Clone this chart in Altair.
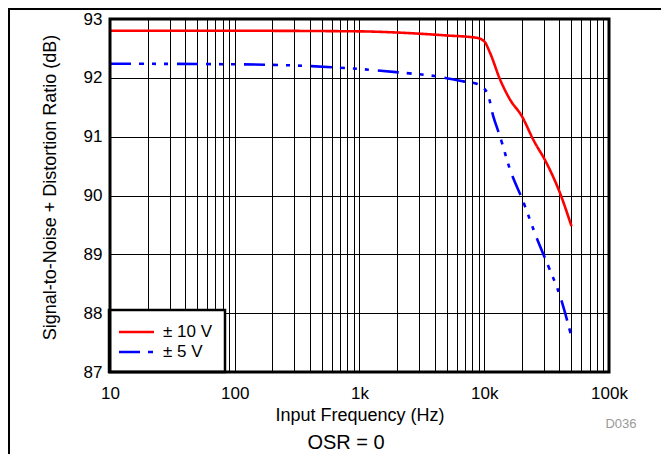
import altair as alt
import pandas as pd

# ---- data ----
series_names = ["± 10 V", "± 5 V"]
freq_10v = [10, 100, 1000, 2000, 5000, 8700, 10000, 11100, 13400, 16100, 20000, 24700, 31600, 40500, 50000]
snr_10v = [92.80, 92.80, 92.79, 92.77, 92.72, 92.68, 92.62, 92.43, 91.97, 91.63, 91.35, 90.95, 90.55, 90.04, 89.48]
freq_5v = [10, 100, 400, 1000, 2400, 4000, 6800, 8700, 10600, 11800, 13400, 16100, 20500, 26300, 32600, 40500, 50000]
snr_5v = [92.24, 92.23, 92.20, 92.15, 92.08, 92.03, 91.94, 91.90, 91.74, 91.35, 91.00, 90.44, 89.90, 89.28, 88.80, 88.29, 87.60]

x_grid = [d * k for d in [10, 100, 1000, 10000] for k in range(1, 10)] + [100000]
y_ticks = [87, 88, 89, 90, 91, 92, 93]

rows = [{"freq": f, "snr": v, "series": series_names[0]} for f, v in zip(freq_10v, snr_10v)]
rows += [{"freq": f, "snr": v, "series": series_names[1]} for f, v in zip(freq_5v, snr_5v)]
df = pd.DataFrame(rows)

FONT = "Liberation Sans"
RED = "#FF0000"
BLUE = "#0000FF"
DASH_5V = [21, 8, 5, 8, 4, 8, 4, 9]

W, H = 499, 353

label_expr = ("datum.value == 10 ? '10' : datum.value == 100 ? '100' : datum.value == 1000 ? '1k' : "
              "datum.value == 10000 ? '10k' : datum.value == 100000 ? '100k' : ''")

lines = alt.Chart(df).mark_line(strokeWidth=2.6, interpolate="monotone").encode(
    x=alt.X("freq:Q",
            scale=alt.Scale(type="log", domain=[10, 100000], nice=False),
            axis=alt.Axis(values=x_grid, labelExpr=label_expr, grid=True, gridColor="black",
                          gridWidth=1, gridOpacity=1, ticks=False, domain=False,
                          labelFont=FONT, labelFontSize=17, labelColor="black",
                          labelPadding=13, labelOverlap=False, labelFlush=False,
                          title="Input Frequency (Hz)", titleFont=FONT, titleFontSize=18,
                          titleFontWeight="normal", titleColor="black",
                          titleY=43, titleBaseline="middle")),
    y=alt.Y("snr:Q",
            scale=alt.Scale(domain=[87, 93], nice=False, zero=False),
            axis=alt.Axis(values=y_ticks, grid=True, gridColor="black", gridWidth=1, gridOpacity=1,
                          ticks=False, domain=False, labelFont=FONT, labelFontSize=17,
                          labelColor="black", labelPadding=8,
                          title="Signal-to-Noise + Distortion Ratio (dB)", titleFont=FONT,
                          titleFontSize=18, titleFontWeight="normal", titleColor="black",
                          titleX=-60, titleY=168, titleBaseline="middle")),
    color=alt.Color("series:N", scale=alt.Scale(domain=series_names, range=[RED, BLUE]), legend=None),
    strokeDash=alt.StrokeDash("series:N", scale=alt.Scale(domain=series_names, range=[[1, 0], DASH_5V]),
                              legend=None),
)

one = alt.Data(values=[{"a": 1}])

# legend box
leg_box = alt.Chart(one).mark_rect(fill="white", stroke="black", strokeWidth=2.5).encode(
    x=alt.value(-1), x2=alt.value(115), y=alt.value(291), y2=alt.value(353))
leg_red = alt.Chart(one).mark_rule(color=RED, strokeWidth=2.6).encode(
    x=alt.value(9), x2=alt.value(44), y=alt.value(313))
leg_blue = alt.Chart(one).mark_rule(color=BLUE, strokeWidth=2.6, strokeDash=DASH_5V).encode(
    x=alt.value(9), x2=alt.value(44), y=alt.value(333))
leg_t1 = alt.Chart(one).mark_text(text=series_names[0], font=FONT, fontSize=17, align="left",
                                  baseline="middle", color="black").encode(
    x=alt.value(53), y=alt.value(313))
leg_t2 = alt.Chart(one).mark_text(text=series_names[1], font=FONT, fontSize=17, align="left",
                                  baseline="middle", color="black").encode(
    x=alt.value(53), y=alt.value(333))

osr = alt.Chart(one).mark_text(text="OSR = 0", font=FONT, fontSize=20, align="center",
                               baseline="middle", color="black").encode(
    x=alt.value(236), y=alt.value(424))
code = alt.Chart(one).mark_text(text="D036", font=FONT, fontSize=13, align="center",
                                baseline="middle", color="#999999").encode(
    x=alt.value(511), y=alt.value(405))

frame = alt.Chart(one).mark_rect(fill=None, stroke="black", strokeWidth=2).encode(
    x=alt.value(-101), x2=alt.value(620), y=alt.value(-10), y2=alt.value(520))

border = alt.Chart(one).mark_rect(fill=None, stroke="black", strokeWidth=3).encode(
    x=alt.value(0), x2=alt.value(W), y=alt.value(0), y2=alt.value(H))

chart = alt.layer(lines, leg_box, leg_red, leg_blue, leg_t1, leg_t2, border, osr, code, frame).properties(
    width=W, height=H,
    autosize=alt.AutoSizeParams(type="none"),
    padding={"left": 102, "top": 11, "right": 52, "bottom": 82},
    background="white",
).configure_view(stroke=None)

chart.save("out.html", embed_options={"renderer": "svg", "actions": False})
